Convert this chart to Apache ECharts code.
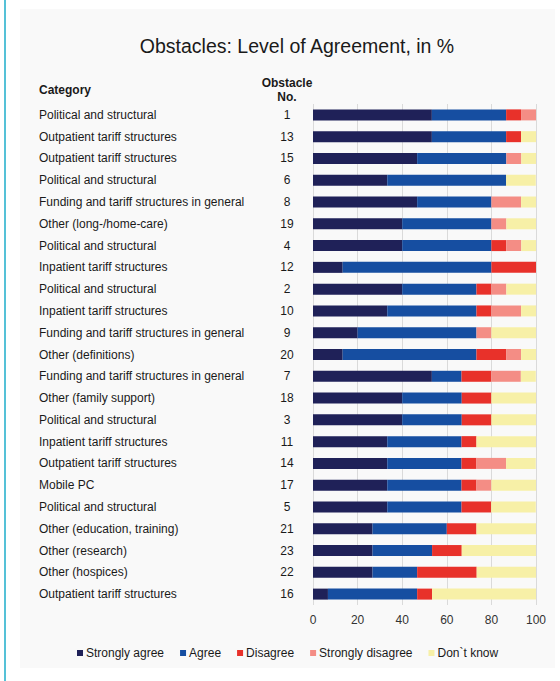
<!DOCTYPE html>
<html>
<head>
<meta charset="utf-8">
<style>
  html, body { margin: 0; padding: 0; background: #ffffff; }
  #chart { width: 560px; height: 681px; }
</style>
<script src="https://cdn.jsdelivr.net/npm/echarts@6/dist/echarts.min.js"></script>
</head>
<body>
<div id="chart"></div>
<script>
// ---- Data (top to bottom as shown) ----
const categories = [
  'Political and structural',
  'Outpatient tariff structures',
  'Outpatient tariff structures',
  'Political and structural',
  'Funding and tariff structures in general',
  'Other (long-/home-care)',
  'Political and structural',
  'Inpatient tariff structures',
  'Political and structural',
  'Inpatient tariff structures',
  'Funding and tariff structures in general',
  'Other (definitions)',
  'Funding and tariff structures in general',
  'Other (family support)',
  'Political and structural',
  'Inpatient tariff structures',
  'Outpatient tariff structures',
  'Mobile PC',
  'Political and structural',
  'Other (education, training)',
  'Other (research)',
  'Other (hospices)',
  'Outpatient tariff structures'
];
const obstacleNo = ['1','13','15','6','8','19','4','12','2','10','9','20','7','18','3','11','14','17','5','21','23','22','16'];

const stronglyAgree    = [53.3,53.3,46.7,33.3,46.7,40.0,40.0,13.3,40.0,33.3,20.0,13.3,53.3,40.0,40.0,33.3,33.3,33.3,33.3,26.7,26.7,26.7, 6.7];
const agree            = [33.3,33.3,40.0,53.3,33.3,40.0,40.0,66.7,33.3,40.0,53.3,60.0,13.3,26.7,26.7,33.3,33.3,33.3,33.3,33.3,26.7,20.0,40.0];
const disagree         = [ 6.7, 6.7, 0.0, 0.0, 0.0, 0.0, 6.7,20.0, 6.7, 6.7, 0.0,13.3,13.3,13.3,13.3, 6.7, 6.7, 6.7,13.3,13.3,13.3,26.7, 6.7];
const stronglyDisagree = [ 6.7, 0.0, 6.7, 0.0,13.3, 6.7, 6.7, 0.0, 6.7,13.3, 6.7, 6.7,13.3, 0.0, 0.0, 0.0,13.3, 6.7, 0.0, 0.0, 0.0, 0.0, 0.0];
const dontKnow         = [ 0.0, 6.7, 6.7,13.3, 6.7,13.3, 6.7, 0.0,13.3, 6.7,20.0, 6.7, 6.7,20.0,20.0,26.7,13.3,20.0,20.0,26.7,33.3,26.7,46.7];

const seriesNames = ['Strongly agree', 'Agree', 'Disagree', 'Strongly disagree', 'Don`t know'];
const xTicks = [0, 20, 40, 60, 80, 100];

const colors = ['#1f2158', '#164ea1', '#e8312a', '#f48d85', '#f7f0a7'];
const seriesData = [stronglyAgree, agree, disagree, stronglyDisagree, dontKnow];

const chart = echarts.init(document.getElementById('chart'), null, { renderer: 'svg' });

const textColor = '#1a1a1a';
const fontFamily = 'Liberation Sans, Arial, Helvetica, sans-serif';

const option = {
  animation: false,
  backgroundColor: '#ffffff',
  textStyle: { fontFamily: fontFamily },
  color: colors,
  title: {
    text: 'Obstacles: Level of Agreement, in %',
    left: 297,
    top: 36,
    textAlign: 'center',
    padding: 0,
    textStyle: { fontSize: 19.5, fontWeight: 'normal', color: textColor, fontFamily: fontFamily }
  },
  graphic: [
    { type: 'rect', z: -10, silent: true, shape: { x: 4, y: 0, width: 2, height: 681 }, style: { fill: '#55c1d7' } },
    { type: 'rect', z: -10, silent: true, shape: { x: 20, y: 9, width: 535, height: 659 }, style: { fill: '#f9f9f9' } },
    { type: 'text', left: 39, top: 84, style: { text: 'Category', fontSize: 12, fontWeight: 'bold', fill: textColor, fontFamily: fontFamily } },
    { type: 'text', x: 287, y: 90, style: { text: 'Obstacle\nNo.', fontSize: 12, fontWeight: 'bold', fill: textColor, fontFamily: fontFamily, align: 'center', verticalAlign: 'middle', lineHeight: 14 } }
  ],
  legend: {
    data: seriesNames,
    left: 77,
    top: 647,
    itemWidth: 6,
    itemHeight: 6,
    itemGap: 16,
    icon: 'rect',
    padding: 0,
    textStyle: { fontSize: 12, color: textColor, fontFamily: fontFamily, padding: [0, 0, 0, -2] }
  },
  grid: {
    left: 313,
    right: 24,
    top: 104,
    bottom: 76,
    containLabel: false,
    outerBoundsMode: 'none'
  },
  xAxis: {
    type: 'value',
    min: xTicks[0],
    max: xTicks[xTicks.length - 1],
    interval: 20,
    axisLine: { show: false },
    axisTick: { show: false },
    splitLine: { show: true, lineStyle: { color: '#dadada', width: 1 } },
    axisLabel: { fontSize: 12, color: '#333333', margin: 9, fontFamily: fontFamily }
  },
  yAxis: [
    {
      type: 'category',
      inverse: true,
      data: obstacleNo,
      position: 'left',
      axisLine: { show: false },
      axisTick: { show: false },
      splitLine: { show: false },
      axisLabel: {
        align: 'left',
        margin: 274,
        fontSize: 12,
        color: textColor,
        fontFamily: fontFamily,
        interval: 0,
        formatter: function (v, i) { return categories[i]; }
      }
    },
    {
      type: 'category',
      inverse: true,
      data: obstacleNo,
      position: 'left',
      offset: 0,
      axisLine: { show: false },
      axisTick: { show: false },
      splitLine: { show: false },
      axisLabel: {
        align: 'center',
        margin: 26,
        fontSize: 12,
        color: textColor,
        fontFamily: fontFamily,
        interval: 0
      }
    }
  ],
  series: seriesNames.map(function (name, k) {
    return {
      name: name,
      type: 'bar',
      stack: 'total',
      yAxisIndex: 0,
      barWidth: 11,
      itemStyle: { color: colors[k] },
      data: seriesData[k]
    };
  })
};

chart.setOption(option);
</script>
</body>
</html>
